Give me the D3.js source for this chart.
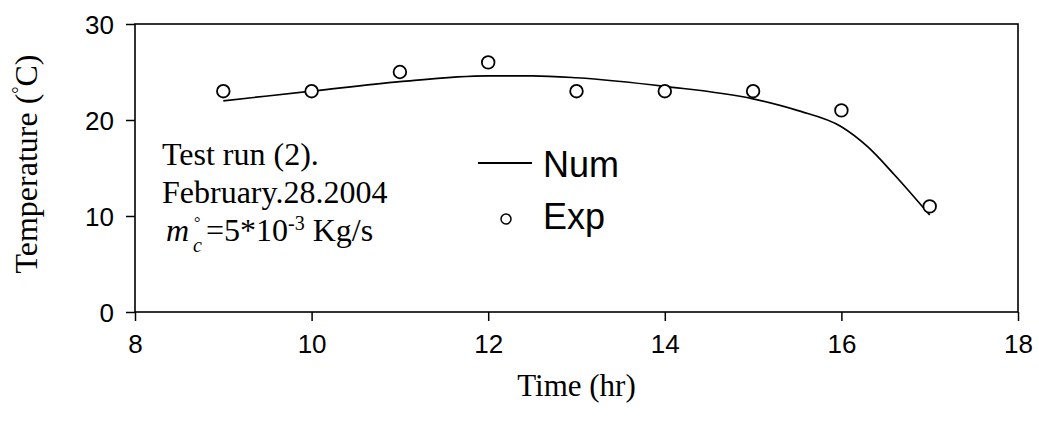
<!DOCTYPE html>
<html>
<head>
<meta charset="utf-8">
<script src="https://cdn.jsdelivr.net/npm/d3@7"></script>
<style>
  body { margin: 0; background: #fff; }
  .tick text { font-family: "Liberation Sans", Arial, sans-serif; font-size: 26px; fill: #000; }
  .tick line { stroke: #000; stroke-width: 1.5; }
</style>
</head>
<body>
<div class="canva"></div>
<script>
// measured points (Exp)
const expHours = [9, 10, 11, 12, 13, 14, 15, 16, 17];
const expTemp = [23, 23, 25, 26, 23, 23, 23, 21, 11];

// numerical curve (Num)
const numHours = [9, 10, 11, 12, 12.5, 13, 14, 15, 15.5, 16, 16.3, 16.6, 17];
const numTemp = [22.0, 23.0, 24.0, 24.6, 24.6, 24.4, 23.5, 22.2, 21.0, 19.3, 17.2, 14.3, 10.1];

const xTicks = [8, 10, 12, 14, 16, 18];
const yTicks = [0, 10, 20, 30];

const margin = {top: 24, right: 21, bottom: 112, left: 135};
const width = 1039, height = 424;
const graphWidth = width - margin.left - margin.right;
const graphHeight = height - margin.top - margin.bottom;

const svg = d3.select(".canva").append("svg")
  .attr("width", width)
  .attr("height", height);

const g = svg.append("g")
  .attr("transform", `translate(${margin.left},${margin.top})`);

const x = d3.scaleLinear().domain([8, 18]).range([0, graphWidth]);
const y = d3.scaleLinear().domain([0, 30]).range([graphHeight, 0]);

// axes
const xAxis = g.append("g")
  .attr("transform", `translate(0,${graphHeight})`)
  .call(d3.axisBottom(x).tickValues(xTicks).tickSize(9).tickPadding(14).tickFormat(d3.format("d")));
xAxis.select(".domain").remove();

const yAxis = g.append("g")
  .call(d3.axisLeft(y).tickValues(yTicks).tickSize(9).tickPadding(12));
yAxis.select(".domain").remove();
yAxis.selectAll("text").attr("dy", "0.36em");

// frame
g.append("rect")
  .attr("width", graphWidth)
  .attr("height", graphHeight)
  .attr("fill", "none")
  .attr("stroke", "#000")
  .attr("stroke-width", 1.6);

// Num line
const line = d3.line()
  .x((d, i) => x(numHours[i]))
  .y(d => y(d))
  .curve(d3.curveMonotoneX);

g.append("path")
  .datum(numTemp)
  .attr("d", line)
  .attr("fill", "none")
  .attr("stroke", "#000")
  .attr("stroke-width", 1.7);

// Exp points
g.selectAll("circle.exp")
  .data(expTemp)
  .enter()
  .append("circle")
  .attr("class", "exp")
  .attr("cx", (d, i) => x(expHours[i]))
  .attr("cy", d => y(d))
  .attr("r", 6.3)
  .attr("fill", "#fff")
  .attr("stroke", "#000")
  .attr("stroke-width", 1.8);

// legend
const legend = svg.append("g");
legend.append("line")
  .attr("x1", 478).attr("x2", 532)
  .attr("y1", 163).attr("y2", 163)
  .attr("stroke", "#000").attr("stroke-width", 1.8);
legend.append("text")
  .attr("x", 543).attr("y", 176.5)
  .style("font-family", "'Liberation Sans', Arial, sans-serif")
  .style("font-size", "36px")
  .text("Num");
legend.append("circle")
  .attr("cx", 506).attr("cy", 219).attr("r", 5)
  .attr("fill", "#fff").attr("stroke", "#000").attr("stroke-width", 1.5);
legend.append("text")
  .attr("x", 543).attr("y", 229)
  .style("font-family", "'Liberation Sans', Arial, sans-serif")
  .style("font-size", "36px")
  .text("Exp");

// annotation
const serif = "'Liberation Serif', 'Times New Roman', serif";
const note = svg.append("g")
  .style("font-family", serif)
  .style("font-size", "32px")
  .attr("fill", "#000");
note.append("text").attr("x", 162).attr("y", 165).text("Test run (2).");
note.append("text").attr("x", 162).attr("y", 203).text("February.28.2004");
const l3 = note.append("text").attr("x", 166).attr("y", 241);
l3.append("tspan").style("font-style", "italic").text("m");
// c subscript with ° stacked above it
note.append("text")
  .attr("x", 193).attr("y", 252)
  .style("font-style", "italic").style("font-size", "20px")
  .text("c");
note.append("text")
  .attr("x", 194).attr("y", 228)
  .style("font-size", "16px")
  .text("°");
const l3b = note.append("text").attr("x", 206).attr("y", 241);
l3b.append("tspan").text("=5*10");
l3b.append("tspan").attr("dy", -11).style("font-size", "20px").text("-3");
l3b.append("tspan").attr("dy", 11).text(" Kg/s");

// axis titles
svg.append("text")
  .attr("x", margin.left + graphWidth / 2)
  .attr("y", 396)
  .attr("text-anchor", "middle")
  .style("font-family", serif)
  .style("font-size", "31px")
  .text("Time (hr)");

const yTitle = svg.append("text")
  .attr("transform", `translate(37,${margin.top + graphHeight / 2 - 4}) rotate(-90)`)
  .attr("text-anchor", "middle")
  .style("font-family", serif)
  .style("font-size", "32px");
yTitle.append("tspan").text("Temperature (");
yTitle.append("tspan").attr("dy", -12).style("font-size", "18px").text("°");
yTitle.append("tspan").attr("dy", 12).text("C)");
</script>
</body>
</html>
